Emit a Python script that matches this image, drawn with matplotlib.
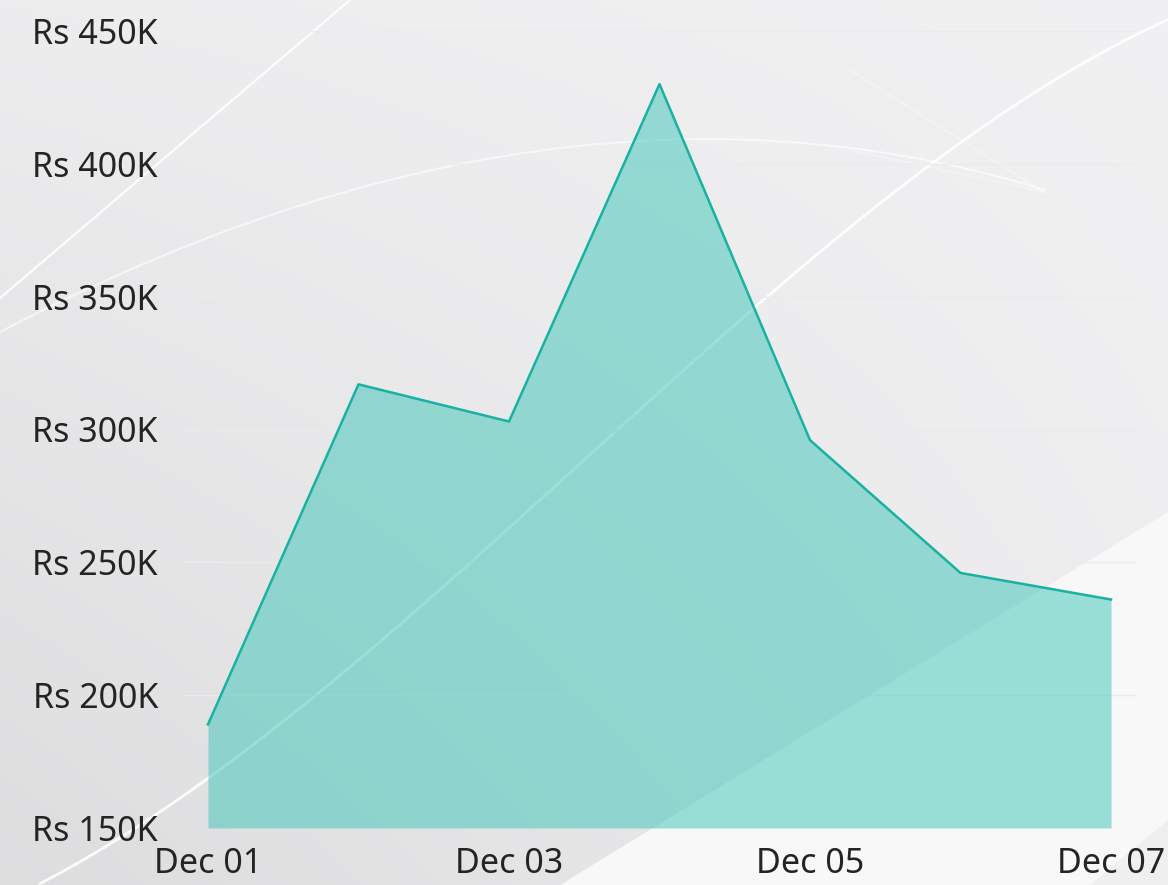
import numpy as np
import matplotlib
matplotlib.use("Agg")
import matplotlib.pyplot as plt
from matplotlib.patches import Polygon

# data
days = ["Dec 01", "Dec 02", "Dec 03", "Dec 04", "Dec 05", "Dec 06", "Dec 07"]
sales = [189000, 317000, 303000, 430000, 296000, 246000, 236000]
y_ticks = [150000, 200000, 250000, 300000, 350000, 400000, 450000]

plt.rcParams['font.family'] = ['Noto Sans', 'DejaVu Sans']

W, H = 1168, 885
fig = plt.figure(figsize=(W / 100, H / 100), dpi=100)

# background: soft gray gradient with a few white streaks
bg = fig.add_axes([0, 0, 1, 1], zorder=-2)
xx, yy = np.meshgrid(np.linspace(0, 1, 300), np.linspace(0, 1, 230))
v = 237 - 16 * yy * (1 - xx) + 4 * xx * (1 - yy)
img = np.dstack([v, v, v + 1.5]) / 255.0
bg.imshow(np.clip(img, 0, 1), extent=[0, W, H, 0], aspect='auto', interpolation='bilinear')
bg.add_patch(Polygon([(560, H), (W, 512), (W, H)], closed=True, color='#f8f8f8', lw=0))
bg.add_patch(Polygon([(1090, H), (W, 820), (W, H)], closed=True, color='#efefef', lw=0))
bg.plot([350, 0], [0, 298], color='white', lw=1.6, alpha=0.9)

# long streak, smoothed through a few guide points
gx = [40, 208, 500, 760, 850, 1168]
gy = [885, 775, 540, 300, 228, 20]
coef = np.polyfit(gx, gy, 3)
sx = np.linspace(40, 1168, 200)
bg.plot(sx, np.polyval(coef, sx), color='white', lw=2, alpha=0.9)

t = np.linspace(0, 1, 60)
cx = 2 * (1 - t) * t * 560 + t ** 2 * 1045
cy = (1 - t) ** 2 * 332 + 2 * (1 - t) * t * 40 + t ** 2 * 190
bg.plot(cx, cy, color='white', lw=1.5, alpha=0.6)
bg.plot([850, 1045], [70, 193], color='white', lw=1.1, alpha=0.35)
bg.plot([850, 1050], [150, 193], color='white', lw=1.1, alpha=0.35)
bg.set_xlim(0, W)
bg.set_ylim(H, 0)
bg.axis('off')

# main chart
ax = fig.add_axes([183 / W, 1 - 828 / H, (1136 - 183) / W, (828 - 31) / H])
ax.patch.set_alpha(0)
x = np.arange(len(days))
ax.fill_between(x, y_ticks[0], sales, color='#3cc4b8', alpha=0.5, lw=0, zorder=2)
ax.plot(x, sales, color='#18b2a2', lw=1.8, zorder=3)

ax.set_xlim(-0.166, len(days) - 1 + 0.166)
ax.set_ylim(y_ticks[0], y_ticks[-1])
ax.set_yticks(y_ticks)
ax.set_yticklabels([f"Rs {v // 1000}K" for v in y_ticks])
ax.set_xticks(x[::2])
ax.set_xticklabels(days[::2])
ax.tick_params(axis='y', length=0, pad=18, labelsize=24.5, labelcolor='#252423')
ax.tick_params(axis='x', length=0, pad=14, labelsize=24.5, labelcolor='#252423')
ax.grid(axis='y', color='#ebebeb', lw=1, zorder=1)
ax.set_axisbelow(True)
for s in ax.spines.values():
    s.set_visible(False)

fig.savefig('out.png', dpi=100)
